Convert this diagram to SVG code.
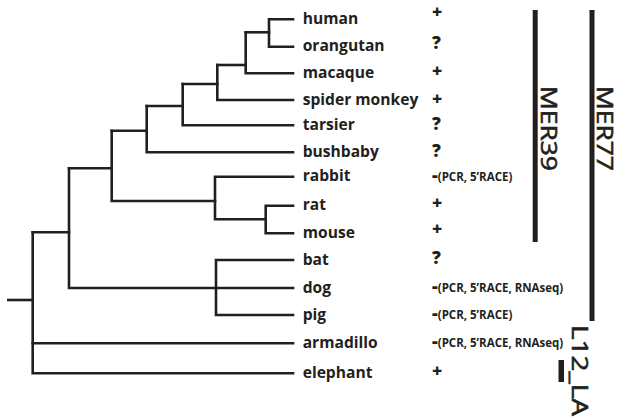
<svg xmlns="http://www.w3.org/2000/svg" width="618" height="420" viewBox="0 0 618 420">
  <style>
    .branch { fill: none; stroke: #231f20; stroke-width: 2.6; stroke-linecap: square; stroke-linejoin: miter; }
    .taxon { font-family: "Open Sans", "Liberation Sans", sans-serif; font-weight: 700; font-size: 15.6px; fill: #231f20; }
    .mark { font-family: "Open Sans", "Liberation Sans", sans-serif; font-weight: 800; font-size: 17.5px; fill: #231f20; }
    .note { font-family: "Open Sans", "Liberation Sans", sans-serif; font-weight: 700; font-size: 11.5px; fill: #231f20; }
    .dash { font-weight: 800; font-size: 18px; }
    .family { font-family: "Open Sans", "Liberation Sans", sans-serif; font-weight: 400; font-size: 21px; fill: #231f20; stroke: #231f20; stroke-width: 0.6; }
    .bar { fill: #231f20; }
  </style>
  <rect width="618" height="420" fill="#ffffff"/>

  <!-- tree branches -->
  <g id="connectors">
    <path class="branch" d="M293 19.3 H269 V46.7 H293"/>
    <path class="branch" d="M245.7 32.3 H269"/>
    <path class="branch" d="M245.7 32.3 V73.3 H293"/>
    <path class="branch" d="M217.3 65 H245.7"/>
    <path class="branch" d="M217.3 65 V100 H293"/>
    <path class="branch" d="M182.7 84 H217.3"/>
    <path class="branch" d="M182.7 84 V125.3 H293"/>
    <path class="branch" d="M146.7 106 H182.7"/>
    <path class="branch" d="M146.7 106 V152.3 H293"/>
    <path class="branch" d="M111.7 130.7 H146.7"/>
    <path class="branch" d="M111.7 130.7 V201 H215"/>
    <path class="branch" d="M293 176.7 H215 V219.3 H265.7"/>
    <path class="branch" d="M293 205.7 H265.7 V233.3 H293"/>
    <path class="branch" d="M69 168.3 H111.7"/>
    <path class="branch" d="M69 168.3 V288 H293"/>
    <path class="branch" d="M293 260 H216 V315 H293"/>
    <path class="branch" d="M32.7 232.3 H69"/>
    <path class="branch" d="M32.7 232.3 V373.3 H293"/>
    <path class="branch" d="M32.7 343.3 H293"/>
    <path class="branch" d="M8.3 300 H32.7"/>
  </g>

  <!-- taxa with expression calls -->
  <g id="human"><text class="taxon" x="302.7" y="23.8">human</text><text class="mark" x="432" y="18">+</text></g>
  <g id="orangutan"><text class="taxon" x="302.7" y="51.2">orangutan</text><text class="mark" x="432" y="48.5">?</text></g>
  <g id="macaque"><text class="taxon" x="302.7" y="77.8">macaque</text><text class="mark" x="432" y="77">+</text></g>
  <g id="spider_monkey"><text class="taxon" x="302.7" y="104.5">spider monkey</text><text class="mark" x="432" y="104.5">+</text></g>
  <g id="tarsier"><text class="taxon" x="302.7" y="129.8">tarsier</text><text class="mark" x="432" y="130">?</text></g>
  <g id="bushbaby"><text class="taxon" x="302.7" y="156.8">bushbaby</text><text class="mark" x="432" y="157">?</text></g>
  <g id="rabbit"><text class="taxon" x="302.7" y="181.2">rabbit</text><text class="note" x="432" y="181"><tspan class="dash">-</tspan>(PCR, 5’RACE)</text></g>
  <g id="rat"><text class="taxon" x="302.7" y="210.2">rat</text><text class="mark" x="432" y="208.5">+</text></g>
  <g id="mouse"><text class="taxon" x="302.7" y="237.8">mouse</text><text class="mark" x="432" y="234.5">+</text></g>
  <g id="bat"><text class="taxon" x="302.7" y="264.5">bat</text><text class="mark" x="432" y="263.5">?</text></g>
  <g id="dog"><text class="taxon" x="302.7" y="292.5">dog</text><text class="note" x="432" y="292"><tspan class="dash">-</tspan>(PCR, 5’RACE, RNAseq)</text></g>
  <g id="pig"><text class="taxon" x="302.7" y="319.5">pig</text><text class="note" x="432" y="319"><tspan class="dash">-</tspan>(PCR, 5’RACE)</text></g>
  <g id="armadillo"><text class="taxon" x="302.7" y="347.8">armadillo</text><text class="note" x="432" y="347"><tspan class="dash">-</tspan>(PCR, 5’RACE, RNAseq)</text></g>
  <g id="elephant"><text class="taxon" x="302.7" y="377.8">elephant</text><text class="mark" x="432" y="376.5">+</text></g>

  <!-- repeat family ranges -->
  <g id="MER39">
    <rect class="bar" x="532.7" y="10" width="5" height="232"/>
    <text class="family" transform="translate(541 86) rotate(90)" textLength="85" lengthAdjust="spacingAndGlyphs">MER39</text>
  </g>
  <g id="MER77">
    <rect class="bar" x="589.5" y="10" width="5" height="311"/>
    <text class="family" transform="translate(596.5 86) rotate(90)" textLength="85" lengthAdjust="spacingAndGlyphs">MER77</text>
  </g>
  <g id="L12_LA">
    <rect class="bar" x="558.5" y="360" width="5.5" height="22"/>
    <text class="family" transform="translate(572 325) rotate(90)" textLength="91" lengthAdjust="spacingAndGlyphs">L12_LA</text>
  </g>
</svg>
